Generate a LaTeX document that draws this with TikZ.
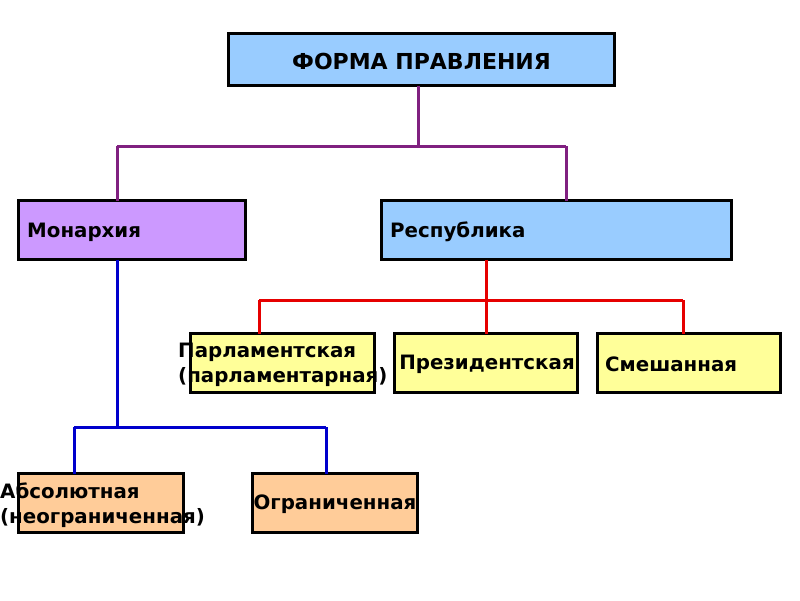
\documentclass[tikz,border=0pt]{standalone}
\usepackage{fontspec}
\setmainfont{DejaVu Sans}
\definecolor{bluefill}{RGB}{153,204,255}
\definecolor{lilac}{RGB}{204,153,255}
\definecolor{paleyellow}{RGB}{255,255,153}
\definecolor{peach}{RGB}{255,204,153}
\definecolor{linepurple}{RGB}{128,32,128}
\definecolor{linered}{RGB}{230,0,0}
\definecolor{lineblue}{RGB}{0,0,204}
\tikzset{
  box/.style={draw=black, line width=3pt, rectangle, inner sep=0pt, outer sep=0pt},
  lbl/.style={font=\bfseries\fontsize{19.8}{24.5}\selectfont, inner sep=0pt, text=black},
  conn/.style={line width=3pt},
}
\begin{document}
\begin{tikzpicture}[x=1pt,y=-1pt]
\useasboundingbox[fill=white] (0,0) rectangle (800,600);
% boxes
\node[box, fill=bluefill, minimum width=386pt, minimum height=52pt] (top) at (421.5,59.5) {};
\node[box, fill=lilac, minimum width=227pt, minimum height=59pt] (mon) at (132,230) {};
\node[box, fill=bluefill, minimum width=350pt, minimum height=59pt] (rep) at (556.5,230) {};
\node[box, fill=paleyellow, minimum width=184pt, minimum height=59pt] (parl) at (282.5,363) {};
\node[box, fill=paleyellow, minimum width=183pt, minimum height=59pt] (pres) at (486,363) {};
\node[box, fill=paleyellow, minimum width=183pt, minimum height=59pt] (mix) at (689,363) {};
\node[box, fill=peach, minimum width=165pt, minimum height=59pt] (abs) at (101,503) {};
\node[box, fill=peach, minimum width=165pt, minimum height=59pt] (lim) at (335,503) {};
% texts
\node[lbl, font=\bfseries\fontsize{22}{26}\selectfont] (ttop) at (421.5,61) {ФОРМА ПРАВЛЕНИЯ};
\node[lbl, anchor=west] (tmon) at (27,232) {Монархия};
\node[lbl, anchor=west] (trep) at (390,232) {Республика};
\node[lbl, align=left, anchor=west] (tparl) at (178,365) {Парламентская\\(парламентарная)};
\node[lbl] (tpres) at (487,364.5) {Президентская};
\node[lbl, anchor=west] (tmix) at (605,364.5) {Смешанная};
\node[lbl, align=left, anchor=west] (tabs) at (0,505) {Абсолютная\\(неограниченная)};
\node[lbl] (tlim) at (335,504.5) {Ограниченная};
% connector joints
\coordinate (j1) at (418,146);
\coordinate (j2) at (486,300);
\coordinate (j3) at (117,427);
% purple
\draw[conn, linepurple] (top.south -| j1) -- (j1);
\draw[conn, linepurple] (117,146) -- (566,146);
\draw[conn, linepurple] (117,146) -- (mon.north -| 117,0);
\draw[conn, linepurple] (566,146) -- (rep.north -| 566,0);
% red
\draw[conn, linered] (rep.south -| j2) -- (j2);
\draw[conn, linered] (259,300) -- (683,300);
\draw[conn, linered] (259,300) -- (parl.north -| 259,0);
\draw[conn, linered] (j2) -- (pres.north);
\draw[conn, linered] (683,300) -- (mix.north -| 683,0);
% blue
\draw[conn, lineblue] (mon.south -| j3) -- (j3);
\draw[conn, lineblue] (74,427) -- (326,427);
\draw[conn, lineblue] (74,427) -- (abs.north -| 74,0);
\draw[conn, lineblue] (326,427) -- (lim.north -| 326,0);
\end{tikzpicture}
\end{document}
